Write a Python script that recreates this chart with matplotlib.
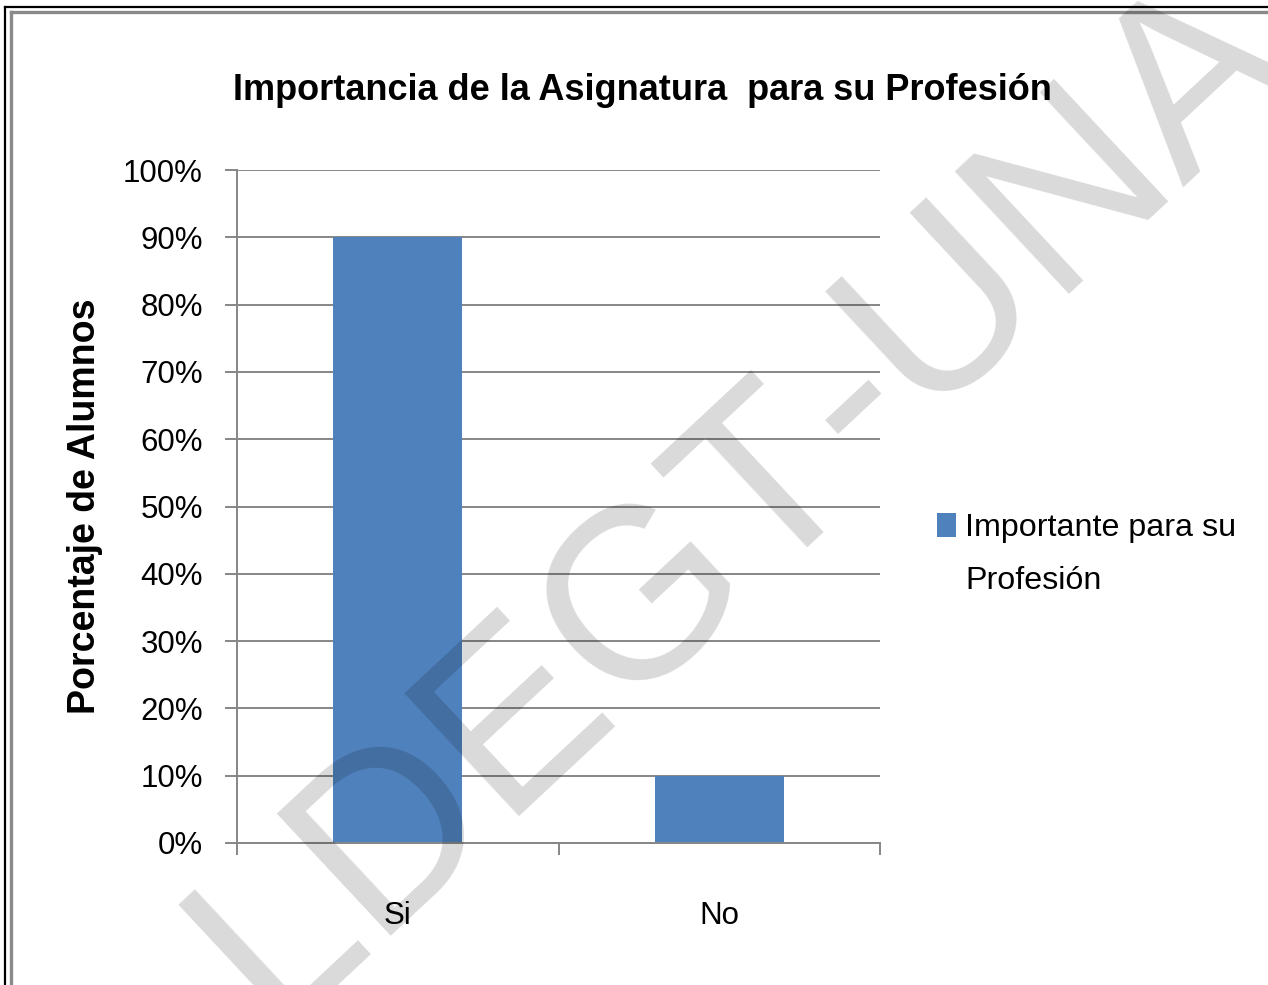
import matplotlib
matplotlib.use("Agg")
import matplotlib.pyplot as plt
import numpy as np
from matplotlib.lines import Line2D
from matplotlib.ticker import MultipleLocator, PercentFormatter

# data
CATEGORIES = ["Si", "No"]
VALUES = [90, 10]
SERIES = "Importante para su Profesión"
TITLE = "Importancia de la Asignatura  para su Profesión"
YLABEL = "Porcentaje de Alumnos"
WATERMARK = ["LDEGT", "-UNA"]

BAR_COLOR = "#4F81BD"
GRID_COLOR = "#868686"
FONT = ["Liberation Sans", "DejaVu Sans"]
TICK_SIZE = 22.5
LEGEND_SIZE = 23.2

W, H, DPI = 1268, 985, 100


def px(x, y):
    """Image pixel (origin top-left) -> figure fraction."""
    return x / W, 1 - y / H


def main():
    plt.rcParams["font.family"] = FONT
    fig = plt.figure(figsize=(W / DPI, H / DPI), dpi=DPI)

    left, top = 237, 170
    right, bottom = 880, 843
    ax = fig.add_axes([left / W, 1 - bottom / H, (right - left) / W, (bottom - top) / H])

    x = np.arange(len(CATEGORIES))
    bars = ax.bar(x, VALUES, width=0.4, color=BAR_COLOR, zorder=2)

    ax.set_xlim(-0.5, len(CATEGORIES) - 0.5)
    ax.set_ylim(0, 100)
    ax.yaxis.set_major_locator(MultipleLocator(10))
    ax.yaxis.set_major_formatter(PercentFormatter(decimals=0))
    ax.yaxis.grid(True, color=GRID_COLOR, lw=1.4)
    ax.set_axisbelow(True)

    for s in ("top", "right"):
        ax.spines[s].set_visible(False)
    for s in ("left", "bottom"):
        ax.spines[s].set_color(GRID_COLOR)
        ax.spines[s].set_linewidth(1.4)

    ax.tick_params(axis="y", direction="out", length=8.6, width=1.4,
                   color=GRID_COLOR, pad=16, labelsize=TICK_SIZE)
    ax.set_xticks(x)
    ax.set_xticklabels(CATEGORIES)
    ax.set_xticks(np.arange(len(CATEGORIES) + 1) - 0.5, minor=True)
    ax.tick_params(axis="x", which="major", length=0, pad=42, labelsize=TICK_SIZE)
    ax.tick_params(axis="x", which="minor", direction="out", length=8.6,
                   width=1.4, color=GRID_COLOR)

    # legend: first line next to the swatch, second line underneath
    first, second = SERIES.rsplit(" ", 1)
    leg = ax.legend([bars], [first], loc="center left",
                    bbox_to_anchor=px(937, 528), bbox_transform=fig.transFigure,
                    frameon=False, borderpad=0, borderaxespad=0,
                    handlelength=0.59, handleheight=0.78, handletextpad=0.28,
                    prop=dict(size=LEGEND_SIZE))

    fig.text(*px(642, 100), TITLE, ha="center", va="baseline",
             fontsize=26, fontweight="bold")
    fig.text(*px(85, 506), YLABEL, rotation=90, ha="center", va="center",
             fontsize=27, fontweight="bold")

    fig.canvas.draw()
    bb = leg.get_texts()[0].get_window_extent()
    fig.text(bb.x0 / W, (bb.y0 - 53) / H, second, ha="left", va="bottom",
             fontsize=LEGEND_SIZE)

    # double frame round the chart
    fig.add_artist(Line2D([5 / W, 1], [1 - 7 / H] * 2, color="black", lw=1.6,
                          transform=fig.transFigure))
    fig.add_artist(Line2D([5 / W] * 2, [0, 1 - 7 / H], color="black", lw=1.6,
                          transform=fig.transFigure))
    fig.add_artist(Line2D([11 / W, 1], [1 - 12 / H] * 2, color="#8a8a8a", lw=2.4,
                          transform=fig.transFigure))
    fig.add_artist(Line2D([11 / W] * 2, [0, 1 - 12 / H], color="#8a8a8a", lw=2.4,
                          transform=fig.transFigure))

    # watermark, split at the T so it can be anchored there
    anchor = px(865, 475)
    for s, ha in zip(WATERMARK, ("right", "left")):
        fig.text(*anchor, s, rotation=43, rotation_mode="anchor",
                 ha=ha, va="baseline", fontsize=175, color="black",
                 alpha=0.15, zorder=10)

    fig.savefig("out.png", dpi=DPI)


if __name__ == "__main__":
    main()
